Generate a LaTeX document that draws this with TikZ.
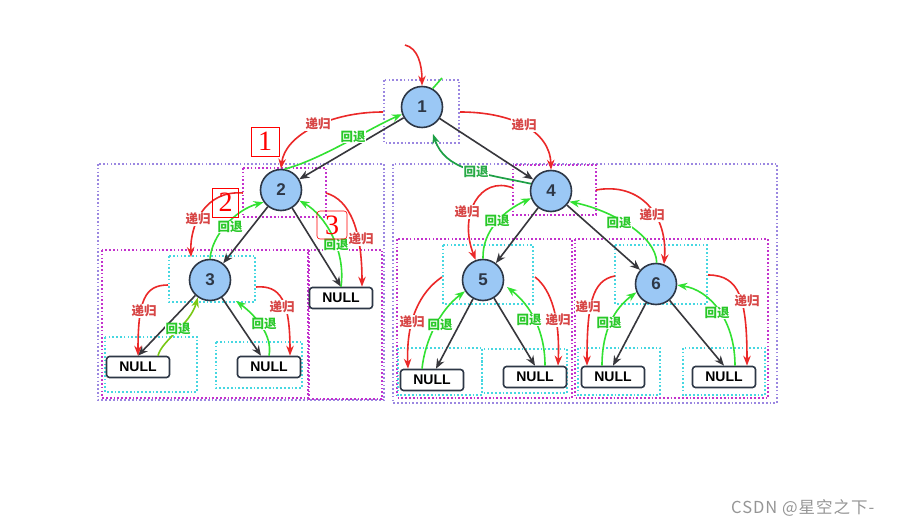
\documentclass[tikz,border=0pt]{standalone}
\usepackage{fontspec}
\setmainfont{Liberation Serif}
\setsansfont{Liberation Sans}
\newfontfamily\cjk{Noto Sans CJK SC}
\newfontfamily\wmfont{Noto Sans CJK SC}[LetterSpace=6]
\usetikzlibrary{arrows.meta,calc}
\definecolor{nodefill}{RGB}{155,200,245}
\definecolor{nodeline}{RGB}{45,55,70}
\definecolor{arrowblack}{RGB}{55,55,60}
\definecolor{recred}{RGB}{235,40,40}
\definecolor{bakgreen}{RGB}{50,225,50}
\definecolor{bakdark}{RGB}{30,160,70}
\definecolor{bakolive}{RGB}{120,200,20}
\definecolor{labred}{RGB}{215,70,70}
\definecolor{labgreen}{RGB}{40,200,40}
\definecolor{labdark}{RGB}{40,170,70}
\definecolor{boxpurple}{RGB}{155,135,225}
\definecolor{boxmag}{RGB}{195,50,205}
\definecolor{boxcyan}{RGB}{70,215,225}
\definecolor{wmgray}{RGB}{150,150,150}
\begin{document}
\begin{tikzpicture}[x=1pt,y=-1pt,
  tnode/.style={circle, draw=nodeline, line width=1.6pt, fill=nodefill, minimum size=41pt, inner sep=0pt, font=\sffamily\bfseries\fontsize{17}{17}\selectfont, text=nodeline},
  nullbox/.style={rectangle, rounded corners=3pt, draw=nodeline, line width=1.6pt, fill=white, minimum width=63pt, minimum height=21pt, inner sep=0pt, font=\sffamily\bfseries\fontsize{14}{14}\selectfont},
  blk/.style={draw=arrowblack, line width=1.6pt, -{Stealth[length=10pt,width=8pt]}},
  rec/.style={draw=recred, line width=1.6pt, -{Stealth[length=10pt,width=7.5pt]}},
  bak/.style={draw=bakgreen, line width=1.6pt, -{Stealth[length=10pt,width=7.5pt]}},
  rlab/.style={font=\cjk\bfseries\fontsize{12.5}{12.5}\selectfont, text=labred, fill=white, inner sep=0.5pt},
  glab/.style={font=\cjk\bfseries\fontsize{12.5}{12.5}\selectfont, text=labgreen, fill=white, inner sep=0.5pt},
  dotbox/.style={line width=1.7pt, dash pattern=on 1.7pt off 2.1pt},
  pbox/.style={dotbox, draw=boxpurple},
  mbox/.style={dotbox, draw=boxmag},
  cbox/.style={dotbox, draw=boxcyan},
  numbox/.style={draw=red, line width=0.6pt, minimum width=28pt, minimum height=29pt, inner sep=0pt, text=red, font=\fontsize{28}{28}\selectfont}
]
\useasboundingbox (0,0) rectangle (897,526);
\fill[white] (0,0) rectangle (897,526);

% dotted boxes
\draw[pbox] (384,80) rectangle (459,143);
\draw[pbox] (98,164) rectangle (384,400);
\draw[pbox] (393,164) rectangle (777,403);
\draw[mbox] (243,168) rectangle (326,217);
\draw[mbox] (102,250) rectangle (308,398);
\draw[mbox] (309,250) rectangle (382,399);
\draw[mbox] (513,165) rectangle (596,215);
\draw[mbox] (397,239) rectangle (572,398);
\draw[mbox] (575,239) rectangle (768,398);
\draw[cbox] (169,256) rectangle (255,302);
\draw[cbox] (105,337) rectangle (197,392);
\draw[cbox] (216,342) rectangle (302,388);
\draw[cbox] (443,245) rectangle (533,304);
\draw[cbox] (398,348) rectangle (482,395);
\draw[cbox] (482,349) rectangle (567,393);
\draw[cbox] (615,245) rectangle (707,304);
\draw[cbox] (578,348) rectangle (660,395);
\draw[cbox] (683,348) rectangle (765,395);

% tree nodes
\node[tnode] (n1) at (422,107) {1};
\node[tnode] (n2) at (281,190) {2};
\node[tnode] (n3) at (210,280) {3};
\node[tnode] (n4) at (551,191) {4};
\node[tnode] (n5) at (483,280) {5};
\node[tnode] (n6) at (656,284) {6};
\node[nullbox] (na) at (138,367) {NULL};
\node[nullbox] (nb) at (269,367) {NULL};
\node[nullbox] (nc) at (341,298) {NULL};
\node[nullbox] (nd) at (432,380) {NULL};
\node[nullbox] (ne) at (535,377) {NULL};
\node[nullbox] (nf) at (613,377) {NULL};
\node[nullbox] (ng) at (724,377) {NULL};

% free ends
\coordinate (top) at (405,45);
\coordinate (r12) at (383,112);
\coordinate (r14) at (460,112);
\coordinate (g41) at (433,134);
\coordinate (r23) at (243,193);
\coordinate (t23) at (191,257);
\coordinate (r2c) at (326,193);
\coordinate (r3a) at (168,285);
\coordinate (r3b) at (256,287);
\coordinate (tb3) at (236,301);
\coordinate (r45) at (513,188);
\coordinate (r46) at (596,190);
\coordinate (r5d) at (442,277);
\coordinate (r5e) at (535,277);
\coordinate (te5) at (507,287);
\coordinate (r6f) at (615,276);
\coordinate (r6g) at (708,275);
\coordinate (gfr) at (442,78);

% black tree edges
\draw[blk] (n1) -- (n2);
\draw[blk] (n1) -- (n4);
\draw[blk] (n2) -- (n3);
\draw[blk] (n2) -- (nc.north);
\draw[blk] (n3) -- (na.north);
\draw[blk] (n3) -- ($(nb.north)+(-8,0)$);
\draw[blk] (n4) -- (n5);
\draw[blk] (n4) -- (n6);
\draw[blk] (n5) -- ($(nd.north)+(4,0)$);
\draw[blk] (n5) -- (ne.north);
\draw[blk] (n6) -- (nf.north);
\draw[blk] (n6) -- (ng.north);

% recursion (red) and return (green) curves
\draw[rec] (top) .. controls (418,48) and (422,65) .. (n1.north);
\draw[draw=bakgreen, line width=1.6pt] (n1.60) -- (gfr);

\draw[rec] (r12) .. controls (330,112) and (285,135) .. (n2.north);
\draw[bak] (n2.80) .. controls (320,160) and (370,128) .. (n1.200);
\draw[rec] (r14) .. controls (510,112) and (550,130) .. (n4.north);
\draw[draw=bakdark, line width=1.7pt, -{Stealth[length=10pt,width=7.5pt]}] (n4.160) .. controls (480,173) and (445,170) .. (g41);

\draw[rec] (r23) .. controls (205,190) and (190,225) .. (t23);
\draw[bak] (n3.north) .. controls (212,235) and (235,210) .. (n2.215);
\draw[rec] (r2c) .. controls (350,200) and (362,230) .. ($(nc.north)+(21,0)$);
\draw[bak] (nc.north) .. controls (346,250) and (325,215) .. (n2.330);

\draw[rec] (r3a) .. controls (145,285) and (138,300) .. (na.north);
\draw[draw=bakolive, line width=1.6pt, -{Stealth[length=10pt,width=7.5pt]}] ($(na.north)+(20,0)$) .. controls (162,340) and (190,325) .. (n3.235);
\draw[rec] (r3b) .. controls (280,285) and (290,300) .. ($(nb.north)+(21,0)$);
\draw[bak] (nb.north) .. controls (273,335) and (255,315) .. (tb3);

\draw[rec] (r45) .. controls (480,175) and (458,215) .. (n5.110);
\draw[bak] (n5.north) .. controls (482,230) and (505,210) .. (n4.200);
\draw[rec] (r46) .. controls (640,182) and (668,215) .. (n6.68);
\draw[bak] (n6.88) .. controls (656,235) and (610,210) .. (n4.330);

\draw[rec] (r5d) .. controls (420,292) and (406,320) .. ($(nd.north)+(-24,0)$);
\draw[bak] ($(nd.north)+(-10,0)$) .. controls (425,340) and (440,310) .. (n5.212);
\draw[rec] (r5e) .. controls (552,290) and (560,320) .. ($(ne.north)+(23,0)$);
\draw[bak] ($(ne.north)+(10,0)$) .. controls (545,330) and (530,305) .. (te5);

\draw[rec] (r6f) .. controls (592,280) and (587,305) .. ($(nf.north)+(-26,0)$);
\draw[bak] ($(nf.north)+(-11,0)$) .. controls (602,330) and (615,308) .. (n6.203);
\draw[rec] (r6g) .. controls (740,275) and (747,300) .. ($(ng.north)+(23,0)$);
\draw[bak] ($(ng.north)+(11,0)$) .. controls (735,320) and (710,290) .. (n6.-3);

% labels
\node[rlab] (l1) at (318,124) {递归};
\node[glab] (l2) at (353,137) {回退};
\node[rlab] (l3) at (524,125) {递归};
\node[glab, text=labdark] (l4) at (476,172) {回退};
\node[rlab] (l5) at (198,219) {递归};
\node[glab] (l6) at (230,227) {回退};
\node[rlab] (l7) at (361,239) {递归};
\node[glab] (l8) at (336,245) {回退};
\node[rlab] (l9) at (144,311) {递归};
\node[glab] (l10) at (178,329) {回退};
\node[rlab] (l11) at (282,307) {递归};
\node[glab] (l12) at (264,324) {回退};
\node[rlab] (l13) at (467,212) {递归};
\node[glab] (l14) at (497,221) {回退};
\node[rlab] (l15) at (652,215) {递归};
\node[glab] (l16) at (619,223) {回退};
\node[rlab] (l17) at (412,322) {递归};
\node[glab] (l18) at (440,325) {回退};
\node[rlab] (l19) at (558,320) {递归};
\node[glab] (l20) at (529,320) {回退};
\node[rlab] (l21) at (588,307) {递归};
\node[glab] (l22) at (609,323) {回退};
\node[rlab] (l23) at (747,301) {递归};
\node[glab] (l24) at (717,313) {回退};

% red step numbers
\node[numbox] (s1) at (265,141.5) {1};
\node[numbox, minimum width=26pt] (s2) at (225.5,202.5) {2};
\node[numbox, rounded corners=3pt, minimum width=30pt, minimum height=28pt] (s3) at (332,225) {3};

% watermark
\node[anchor=west, font=\wmfont\fontsize{16.5}{16.5}\selectfont, text=wmgray, inner sep=0pt] (wm) at (731,508) {CSDN @星空之下-};
\end{tikzpicture}
\end{document}
